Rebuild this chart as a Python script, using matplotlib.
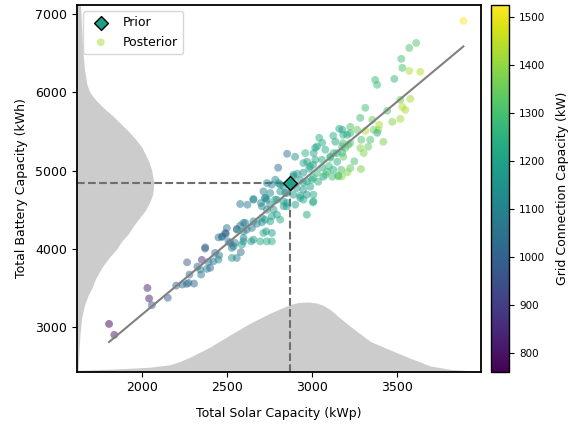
import numpy as np
import matplotlib
matplotlib.use("Agg")
import matplotlib.pyplot as plt

# ---------------- data ----------------
# posterior samples: (solar kWp, battery kWh, grid kW)
posterior_points = [
    # upper tail
    (3574, 6276, 1430), (3893, 6915, 1526), (3615, 6634, 1320), (3574, 6570, 1310),
    (3527, 6430, 1290), (3533, 6315, 1300), (3639, 6264, 1440), (3373, 6161, 1280),
    (3385, 6098, 1290), (3486, 6174, 1270), (3521, 5906, 1360), (3580, 5919, 1420),
    (3533, 5817, 1440), (3551, 5778, 1430), (3521, 5663, 1420), (3474, 5625, 1380),
    (3444, 5766, 1300), (3315, 5804, 1290), (3285, 5676, 1280), (3356, 5651, 1350),
    (3397, 5587, 1430), (3391, 5523, 1400), (3315, 5510, 1440), (3364, 5523, 1360),
    (3226, 5481, 1280),
    # upper middle
    (3059, 5140, 1230), (3108, 5182, 1280), (3148, 5225, 1250), (3177, 5310, 1290),
    (2950, 5098, 1230), (2990, 5055, 1220), (3030, 5310, 1220), (3010, 5225, 1200),
    (2961, 5225, 1260), (2854, 5216, 1040), (2901, 5178, 1150), (2972, 5114, 1180),
    (3161, 5536, 1230), (3179, 5523, 1200), (3208, 5459, 1210), (3126, 5446, 1250),
    (3185, 5459, 1230), (3043, 5421, 1250), (3061, 5357, 1230), (3020, 5293, 1200),
    (3079, 5268, 1240), (3138, 5370, 1210), (3197, 5293, 1290), (3179, 5229, 1260),
    (3291, 5395, 1310), (3385, 5484, 1250), (3421, 5370, 1370), (3332, 5306, 1340),
    (3214, 5331, 1320), (3149, 5114, 1250), (3185, 5178, 1330), (3226, 5353, 1320),
    (3285, 5289, 1380), (3305, 5225, 1380), (3267, 5523, 1340), (3226, 5561, 1310),
    (3344, 5395, 1300), (3108, 5165, 1250), (3183, 5353, 1300), (3128, 5225, 1260),
    (3020, 5140, 1220), (3250, 5120, 1300), (3100, 5060, 1280), (3060, 5040, 1240),
    # middle
    (2754, 4714, 1120), (2783, 4629, 1160), (2832, 4608, 1180), (2891, 4693, 1160),
    (2852, 4714, 1130), (2950, 4629, 1230), (3009, 4693, 1220), (3009, 4608, 1250),
    (2911, 4778, 1180), (2931, 4650, 1200), (2714, 4735, 1090), (2764, 4821, 1090),
    (2803, 4842, 1130), (2833, 4799, 1140), (2735, 4629, 1110), (2655, 4629, 1080),
    (2801, 5038, 1030), (2784, 4884, 1120), (2931, 4884, 1170), (3008, 4910, 1250),
    (3037, 4859, 1230), (2990, 4795, 1200), (2949, 4757, 1190), (2913, 4961, 1180),
    (2890, 4923, 1130), (2949, 4974, 1150), (2984, 5025, 1200), (3008, 5076, 1210),
    (3173, 5012, 1300), (3126, 5012, 1240), (3090, 4987, 1260), (3067, 4923, 1200),
    (3120, 4923, 1290), (3155, 4936, 1250), (3226, 5033, 1330), (3289, 5021, 1370),
    (3177, 4927, 1400), (3079, 4948, 1300), (3030, 4970, 1270), (3000, 4884, 1230),
    (2970, 4693, 1150), (2950, 4842, 1200), (2843, 4715, 1160), (2813, 4821, 1150),
    (2892, 4948, 1170), (2970, 4863, 1190), (2931, 4680, 1200), (2813, 4735, 1150),
    (2735, 4842, 1100), (3210, 4980, 1380), (3157, 4927, 1330),
    # lower middle
    (2577, 4574, 1060), (2620, 4565, 1080), (2655, 4638, 1130), (2699, 4587, 1100),
    (2725, 4651, 1110), (2754, 4565, 1150), (2735, 4501, 1120), (2764, 4416, 1200),
    (2725, 4374, 1190), (2705, 4339, 1150), (2676, 4322, 1100), (2646, 4268, 1060),
    (2607, 4332, 1070), (2577, 4297, 1050), (2558, 4246, 1070), (2597, 4224, 1120),
    (2730, 4224, 1180), (2695, 4096, 1220), (2642, 4096, 1180), (2597, 4140, 1100),
    (2489, 4203, 930), (2538, 4033, 1060), (2587, 4054, 1200), (2754, 4352, 1200),
    (2498, 4267, 1050), (2557, 4255, 1080), (2616, 4245, 1090), (2655, 4353, 1120),
    (2705, 4395, 1140), (2714, 4203, 1230), (2764, 4096, 1240), (2734, 4096, 1230),
    (2655, 4118, 1170), (2596, 4096, 1150), (2764, 4204, 1180), (2813, 4374, 1220),
    (2794, 4437, 1200), (2853, 4587, 1170), (2902, 4565, 1210), (3006, 4595, 1230),
    (2970, 4437, 1210), (2833, 4544, 1200), (2794, 4629, 1180), (2852, 4544, 1170),
    (2724, 4651, 1140), (2596, 4332, 1100), (2774, 4501, 1160), (2705, 4544, 1120),
    # lower tail
    (1804, 3040, 760), (1835, 2900, 800), (2030, 3500, 830), (2040, 3365, 815),
    (2056, 3280, 960), (2150, 3375, 975), (2200, 3530, 985), (2236, 3544, 1000),
    (2262, 3552, 1080), (2305, 3556, 1010), (2278, 3671, 1030), (2264, 3828, 980),
    (2325, 3773, 1000), (2347, 3671, 1060), (2351, 3859, 860), (2370, 4003, 1000),
    (2400, 3757, 1010), (2390, 3833, 1070), (2429, 3948, 1050), (2449, 3863, 1120),
    (2453, 3918, 1080), (2472, 4160, 1100), (2492, 4191, 1000), (2508, 4096, 1050),
    (2528, 4012, 1100), (2528, 3884, 1160), (2449, 4147, 1040), (2547, 4076, 1080),
    (2581, 3958, 1040), (2557, 3884, 1110), (2419, 3841, 1060), (2380, 3744, 1080),
    (2341, 3735, 1090), (2272, 3565, 1020), (2469, 4152, 1030), (2518, 4076, 1040),
    (2371, 4020, 1000),
]
solar = np.array([p[0] for p in posterior_points], dtype=float)
battery = np.array([p[1] for p in posterior_points], dtype=float)
grid = np.array([p[2] for p in posterior_points], dtype=float)

prior_solar = 2869
prior_battery = 4846
prior_grid = 1190

# marginal densities (normalised to peak = 1), read from the grey shapes
kde_battery_levels = [2429, 2700, 2900, 3100, 3200, 3300, 3400, 3500, 3600, 3700,
                      3800, 3900, 4000, 4100, 4200, 4300, 4400, 4500, 4600, 4700,
                      4850, 5000, 5100, 5200, 5300, 5400, 5500, 5600, 5700, 5800,
                      5900, 6000, 6100, 6300, 6600, 7000, 7119]
kde_battery_density = [0.013, 0.026, 0.039, 0.058, 0.078, 0.104, 0.143, 0.195, 0.234,
                       0.286, 0.351, 0.429, 0.519, 0.584, 0.675, 0.740, 0.818, 0.896,
                       0.948, 0.987, 1.0, 0.974, 0.942, 0.896, 0.844, 0.766, 0.675,
                       0.571, 0.468, 0.351, 0.247, 0.169, 0.130, 0.097, 0.071, 0.052,
                       0.045]
kde_solar_levels = [1615, 1810, 1945, 2046, 2164, 2220, 2282, 2400, 2518, 2636, 2754,
                    2872, 2920, 2970, 3029, 3070, 3108, 3167, 3226, 3344, 3462, 3580,
                    3698, 3816, 3934, 3997]
kde_solar_density = [0.019, 0.036, 0.051, 0.065, 0.101, 0.145, 0.210, 0.355, 0.529,
                     0.696, 0.841, 0.964, 0.993, 1.0, 0.986, 0.949, 0.891, 0.768,
                     0.652, 0.435, 0.312, 0.193, 0.083, 0.033, 0.014, 0.012]

x_limits = (1615, 3997)
y_limits = (2429, 7119)
grid_limits = (760, 1526)
kde_fraction = 0.19

# ---------------- figure ----------------
W, H = 569, 424
fig = plt.figure(figsize=(W / 100, H / 100), dpi=100)
ax = fig.add_axes([77 / W, 1 - 371.7 / H, 404 / W, 366.7 / H])
cax = fig.add_axes([490.7 / W, 1 - 371.7 / H, 18.6 / W, 366.7 / H])

ax.set_xlim(*x_limits)
ax.set_ylim(*y_limits)
xr = x_limits[1] - x_limits[0]
yr = y_limits[1] - y_limits[0]

grey = "#cccccc"
ax.fill_betweenx(kde_battery_levels, x_limits[0],
                 x_limits[0] + np.array(kde_battery_density) * kde_fraction * xr,
                 color=grey, lw=0, zorder=1)
ax.fill_between(kde_solar_levels, y_limits[0],
                y_limits[0] + np.array(kde_solar_density) * kde_fraction * yr,
                color=grey, lw=0, zorder=1)

# dashed guide lines to the prior
ax.plot([x_limits[0], prior_solar], [prior_battery, prior_battery], ls="--",
        color="#6e6e6e", lw=1.5, zorder=2)
ax.plot([prior_solar, prior_solar], [y_limits[0], prior_battery], ls="--",
        color="#6e6e6e", lw=1.5, zorder=2)

sc = ax.scatter(solar, battery, c=grid, cmap="viridis", vmin=grid_limits[0],
                vmax=grid_limits[1], s=32, alpha=0.5, linewidths=0,
                label="Posterior", zorder=3)

# linear fit
coef = np.polyfit(solar, battery, 1)
xf = np.array([solar.min(), solar.max()])
ax.plot(xf, np.polyval(coef, xf), color="#808080", lw=1.5, zorder=4)

ax.scatter([prior_solar], [prior_battery], c=[prior_grid], cmap="viridis",
           vmin=grid_limits[0], vmax=grid_limits[1], marker="D", s=50,
           edgecolors="black", linewidths=1.0, label="Prior", zorder=5)

ax.set_xticks([2000, 2500, 3000, 3500])
ax.set_yticks([3000, 4000, 5000, 6000, 7000])
ax.tick_params(labelsize=9)
for sp in ax.spines.values():
    sp.set_linewidth(1.3)
ax.set_xlabel("Total Solar Capacity (kWp)", fontsize=9, labelpad=9)
ax.set_ylabel("Total Battery Capacity (kWh)", fontsize=9, labelpad=5)

handles, labels = ax.get_legend_handles_labels()
order = [labels.index("Prior"), labels.index("Posterior")]
ax.legend([handles[i] for i in order], [labels[i] for i in order],
          loc="upper left", fontsize=9)

cb = fig.colorbar(sc, cax=cax)
cb.solids.set_alpha(1)
cb.set_ticks([800, 900, 1000, 1100, 1200, 1300, 1400, 1500])
cb.ax.tick_params(labelsize=7.5)
cb.outline.set_linewidth(1.0)
cb.set_label("Grid Connection Capacity (kW)", fontsize=9, labelpad=8)

fig.savefig("out.png", dpi=100)
